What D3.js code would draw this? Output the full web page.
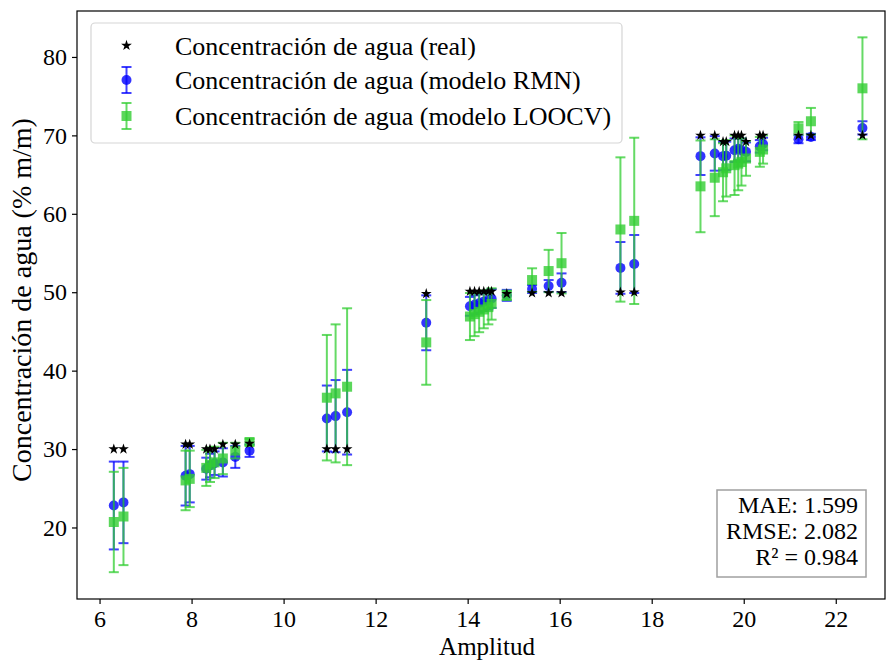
<!DOCTYPE html>
<html>
<head>
<meta charset="utf-8">
<script src="https://cdn.jsdelivr.net/npm/d3@7"></script>
<style>
  body { margin: 0; background: #fff; }
  svg { display: block; font-family: "Liberation Serif", "Times New Roman", serif; }
  .axis path, .axis line { stroke: #000; stroke-width: 1.2; }
</style>
</head>
<body>
<svg id="chart"></svg>
<script>
// amplitude of each sample (x)
const amplitud = [6.31, 6.52, 7.87, 7.96, 8.32, 8.40, 8.50, 8.68, 8.95, 9.26,
  10.94, 11.13, 11.38, 13.10, 14.05, 14.15, 14.25, 14.35, 14.45, 14.52,
  14.85, 15.40, 15.76, 16.04, 17.32, 17.62, 19.06, 19.37, 19.55, 19.62,
  19.80, 19.88, 19.95, 20.05, 20.35, 20.42, 21.19, 21.46, 22.58];

// real water concentration
const real = [30.0, 30.0, 30.6, 30.6, 30.0, 30.0, 30.0, 30.6, 30.6, 30.7,
  30.0, 30.0, 30.0, 49.8, 50.1, 50.1, 50.1, 50.1, 50.1, 50.1,
  49.8, 49.9, 49.9, 49.9, 50.0, 50.0, 70.0, 70.0, 69.2, 69.2,
  70.0, 70.0, 70.0, 69.2, 70.0, 70.0, 70.0, 70.0, 70.0];

// RMN model prediction and its error
const rmn = [22.8, 23.2, 26.6, 26.8, 27.5, 27.9, 28.2, 28.3, 29.0, 29.8,
  33.9, 34.2, 34.7, 46.1, 48.2, 48.4, 48.6, 48.8, 49.0, 49.2,
  49.6, 50.4, 50.8, 51.2, 53.1, 53.6, 67.35, 67.7, 67.35, 67.4,
  68.1, 68.3, 68.1, 67.9, 68.6, 68.9, 69.5, 69.8, 70.95];
const rmnErr = [5.6, 5.2, 3.8, 3.6, 1.4, 1.5, 1.5, 1.8, 1.4, 0.8,
  4.2, 4.6, 5.4, 3.5, 1.2, 1.2, 1.2, 1.2, 1.2, 1.2,
  0.7, 0.5, 0.75, 1.2, 3.3, 3.7, 2.4, 2.2, 1.8, 1.8,
  1.5, 1.5, 1.5, 1.2, 0.8, 0.8, 0.5, 0.4, 0.85];

// LOOCV model prediction and its error
const loocv = [20.7, 21.4, 26.0, 26.2, 27.6, 28.0, 28.3, 28.8, 29.8, 30.9,
  36.55, 37.1, 37.95, 43.6, 46.9, 47.2, 47.5, 47.8, 48.1, 48.5,
  49.6, 51.55, 52.7, 53.7, 58.0, 59.1, 63.5, 64.6, 65.3, 65.8,
  66.2, 66.4, 66.6, 67.05, 67.9, 68.2, 70.9, 71.8, 76.0];
const loocvErr = [6.4, 6.2, 3.8, 3.6, 2.3, 2.2, 2.0, 2.0, 1.0, 0.4,
  8.0, 8.8, 10.0, 5.4, 3.0, 2.8, 2.6, 2.4, 2.2, 2.0,
  0.6, 1.5, 2.7, 3.85, 9.2, 10.6, 5.85, 4.9, 3.7, 3.6,
  3.8, 3.4, 3.0, 2.2, 1.9, 1.8, 0.8, 1.7, 6.5];

const xTicks = [6, 8, 10, 12, 14, 16, 18, 20, 22];
const yTicks = [20, 30, 40, 50, 60, 70, 80];
const legendLabels = ["Concentración de agua (real)",
  "Concentración de agua (modelo RMN)",
  "Concentración de agua (modelo LOOCV)"];
const statsLines = ["MAE: 1.599", "RMSE: 2.082", "R² = 0.984"];

const serif = '"Liberation Serif", "Times New Roman", serif';
const width = 888, height = 662;
const margin = {top: 11, right: 3, bottom: 63, left: 77};
const w = width - margin.left - margin.right;
const h = height - margin.top - margin.bottom;

const blue = "#0000ff", green = "#32cd32";

const svg = d3.select("#chart").attr("width", width).attr("height", height);
svg.append("rect").attr("width", width).attr("height", height).attr("fill", "#fff");

const chart = svg.append("g").attr("transform", `translate(${margin.left},${margin.top})`);

const x = d3.scaleLinear().domain([5.51, 23.07]).range([0, w]);
const y = d3.scaleLinear().domain([10.88, 85.86]).range([h, 0]);

// axes
chart.append("g").attr("class", "axis")
  .attr("transform", `translate(0,${h})`)
  .call(d3.axisBottom(x).tickValues(xTicks).tickSize(5).tickPadding(6).tickSizeOuter(0))
  .attr("font-family", serif).attr("font-size", 24)
  .call(g => g.select(".domain").remove());
chart.append("g").attr("class", "axis")
  .call(d3.axisLeft(y).tickValues(yTicks).tickSize(5).tickPadding(5).tickSizeOuter(0))
  .attr("font-family", serif).attr("font-size", 24)
  .call(g => g.select(".domain").remove());
chart.selectAll(".axis text").attr("fill", "#000");
chart.append("rect").attr("width", w).attr("height", h)
  .attr("fill", "none").attr("stroke", "#000").attr("stroke-width", 1.2);

const rows = amplitud.map((a, i) => ({a, real: real[i], rmn: rmn[i], rmnErr: rmnErr[i], loocv: loocv[i], loocvErr: loocvErr[i]}));

function errorBars(key, errKey, color, opacity) {
  const g = chart.append("g").attr("stroke", color).attr("stroke-opacity", opacity).attr("stroke-width", 2);
  g.selectAll(".v").data(rows).join("line")
    .attr("x1", d => x(d.a)).attr("x2", d => x(d.a))
    .attr("y1", d => y(d[key] - d[errKey])).attr("y2", d => y(d[key] + d[errKey]));
  [-1, 1].forEach(s => {
    g.selectAll(".c" + s).data(rows).join("line")
      .attr("x1", d => x(d.a) - 5).attr("x2", d => x(d.a) + 5)
      .attr("y1", d => y(d[key] + s * d[errKey])).attr("y2", d => y(d[key] + s * d[errKey]));
  });
}

errorBars("rmn", "rmnErr", blue, 0.75);
chart.append("g").selectAll("circle").data(rows).join("circle")
  .attr("cx", d => x(d.a)).attr("cy", d => y(d.rmn)).attr("r", 5)
  .attr("fill", blue).attr("fill-opacity", 0.8);

errorBars("loocv", "loocvErr", green, 0.75);
chart.append("g").selectAll("rect").data(rows).join("rect")
  .attr("x", d => x(d.a) - 5).attr("y", d => y(d.loocv) - 5)
  .attr("width", 10).attr("height", 10)
  .attr("fill", green).attr("fill-opacity", 0.8);

const star = d3.symbol().type(d3.symbolStar).size(36);
chart.append("g").selectAll("path").data(rows).join("path")
  .attr("transform", d => `translate(${x(d.a)},${y(d.real)})`)
  .attr("d", star).attr("fill", "#000");

// axis labels
svg.append("text").attr("x", margin.left + w / 2 + 6).attr("y", 655)
  .attr("text-anchor", "middle").attr("font-size", 25).text("Amplitud");
svg.append("text").attr("transform", `translate(31,300) rotate(-90)`)
  .attr("text-anchor", "middle").attr("font-size", 28).text("Concentración de agua (% m/m)");

// legend
const leg = svg.append("g");
leg.append("rect").attr("x", 91).attr("y", 23).attr("width", 531).attr("height", 120)
  .attr("rx", 4).attr("fill", "#fff").attr("fill-opacity", 0.8)
  .attr("stroke", "#d5d5d5").attr("stroke-width", 1.2);
const legY = [45.5, 80, 116];
const hx = 126.5;
leg.append("path").attr("transform", `translate(${hx},${legY[0]})`).attr("d", star).attr("fill", "#000");
[[blue, "circle"], [green, "square"]].forEach(([c, m], i) => {
  const cy = legY[i + 1];
  const g = leg.append("g").attr("stroke", c).attr("stroke-opacity", 0.75).attr("stroke-width", 2);
  g.append("line").attr("x1", hx).attr("x2", hx).attr("y1", cy - 13).attr("y2", cy + 13);
  g.append("line").attr("x1", hx - 5).attr("x2", hx + 5).attr("y1", cy - 13).attr("y2", cy - 13);
  g.append("line").attr("x1", hx - 5).attr("x2", hx + 5).attr("y1", cy + 13).attr("y2", cy + 13);
  if (m === "circle") leg.append("circle").attr("cx", hx).attr("cy", cy).attr("r", 5).attr("fill", c).attr("fill-opacity", 0.8);
  else leg.append("rect").attr("x", hx - 5).attr("y", cy - 5).attr("width", 10).attr("height", 10).attr("fill", c).attr("fill-opacity", 0.8);
});
leg.selectAll("text.lab").data(legendLabels).join("text").attr("class", "lab")
  .attr("x", 175).attr("y", (d, i) => legY[i]).attr("dy", "0.35em")
  .attr("font-size", 26).text(d => d);

// stats box
const sb = svg.append("g");
sb.append("rect").attr("x", 717).attr("y", 490).attr("width", 149).attr("height", 87)
  .attr("fill", "#fff").attr("stroke", "#a0a0a0").attr("stroke-width", 1.5);
sb.selectAll("text").data(statsLines).join("text")
  .attr("x", 858).attr("y", (d, i) => 505 + i * 25.8).attr("dy", "0.35em")
  .attr("text-anchor", "end").attr("font-size", 24).text(d => d);
</script>
</body>
</html>
